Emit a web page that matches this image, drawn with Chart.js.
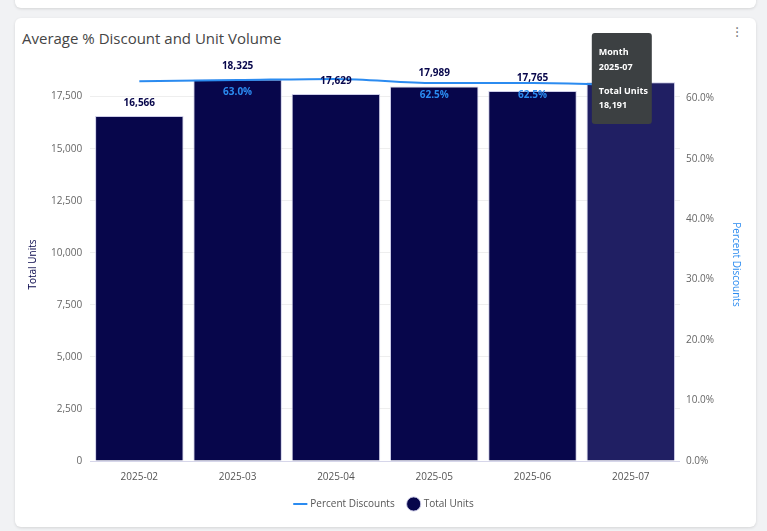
<!DOCTYPE html>
<html>
<head>
<meta charset="utf-8">
<script src="https://cdn.jsdelivr.net/npm/chart.js@4.4.1/dist/chart.umd.min.js"></script>
<style>
  html, body { margin: 0; padding: 0; background: #f1f2f4; width: 767px; height: 531px; overflow: hidden; font-family: 'Open Sans', sans-serif; }
  .topcard { position: absolute; left: 15px; top: -20px; width: 741px; height: 28px; background: #fff; border-radius: 6px; box-shadow: 0 1px 3px rgba(0,0,0,0.12); }
  .card { position: absolute; left: 15px; top: 18px; width: 741px; height: 509px; background: #fff; border-radius: 6px; box-shadow: 0 1px 3px rgba(0,0,0,0.12); }
  .title { position: absolute; left: 7px; top: 10px; font-size: 15px; color: #454545; }
  .menu { position: absolute; right: 17px; top: 8px; font-size: 14px; color: #777; line-height: 4px; }
  .wrap { position: absolute; left: 0; top: 10px; width: 741px; height: 496px; }
</style>
</head>
<body>
<div class="topcard"></div>
<div class="card">
  <div class="title">Average % Discount and Unit Volume</div>
  <div class="menu">·<br>·<br>·</div>
  <div class="wrap"><canvas id="chart"></canvas></div>
</div>
<script>
// data
const months = ['2025-02', '2025-03', '2025-04', '2025-05', '2025-06', '2025-07'];
const totalUnits = [16566, 18325, 17629, 17989, 17765, 18191];
const percentDiscounts = [62.8, 63.0, 63.2, 62.5, 62.5, 62.1];
const pctLabelShown = [false, true, false, true, true, false];
const unitTicks = [0, 2500, 5000, 7500, 10000, 12500, 15000, 17500];
const pctTicks = [0, 10, 20, 30, 40, 50, 60];
const hoveredIndex = 5;

const navy = '#07064b';
const navyHover = '#201f63';
const blue = '#2b8bf0';

Chart.defaults.font.family = "'Open Sans', sans-serif";
Chart.defaults.font.size = 10;
Chart.defaults.color = '#666';

// value labels on bars and on the line
const valueLabels = {
    id: 'valueLabels',
    afterDatasetsDraw(chart) {
        const ctx = chart.ctx;
        ctx.save();
        ctx.textAlign = 'center';
        ctx.textBaseline = 'middle';
        ctx.font = "bold 10px 'Open Sans', sans-serif";

        const barMeta = chart.getDatasetMeta(1);
        barMeta.data.forEach((bar, i) => {
            ctx.fillStyle = navy;
            ctx.fillText(totalUnits[i].toLocaleString('en-US'), bar.x, bar.y - 13);
        });

        const lineMeta = chart.getDatasetMeta(0);
        lineMeta.data.forEach((pt, i) => {
            if (!pctLabelShown[i]) return;
            ctx.fillStyle = blue;
            ctx.fillText(percentDiscounts[i].toFixed(1) + '%', pt.x, pt.y + 12);
        });
        ctx.restore();
    }
};

// fixed tooltip for the hovered bar
const staticTooltip = {
    id: 'staticTooltip',
    afterDraw(chart) {
        const bar = chart.getDatasetMeta(1).data[hoveredIndex];
        const ctx = chart.ctx;
        const x = bar.x - 39;
        const y = chart.chartArea.top - 35;
        const w = 60, h = 91;
        ctx.save();
        ctx.fillStyle = '#3c4042';
        ctx.beginPath();
        ctx.roundRect(x, y, w, h, 3);
        ctx.fill();
        ctx.fillStyle = '#fff';
        ctx.font = "bold 9px 'Open Sans', sans-serif";
        ctx.textAlign = 'left';
        ctx.textBaseline = 'middle';
        ctx.fillText('Month', x + 7, y + 19);
        ctx.fillText(months[hoveredIndex], x + 7, y + 34);
        ctx.fillText('Total Units', x + 7, y + 58);
        ctx.fillText(totalUnits[hoveredIndex].toLocaleString('en-US'), x + 7, y + 72);
        ctx.restore();
    }
};

new Chart(document.getElementById('chart'), {
    data: {
        labels: months,
        datasets: [
            {
                type: 'line',
                label: 'Percent Discounts',
                data: percentDiscounts,
                yAxisID: 'y1',
                borderColor: blue,
                backgroundColor: blue,
                borderWidth: 2,
                pointRadius: 0,
                cubicInterpolationMode: 'monotone',
                pointStyle: 'line',
                order: 0
            },
            {
                type: 'bar',
                label: 'Total Units',
                data: totalUnits,
                yAxisID: 'y',
                backgroundColor: months.map((m, i) => i === hoveredIndex ? navyHover : navy),
                borderColor: 'rgba(200,200,228,0.9)',
                borderWidth: 1,
                barPercentage: 0.9,
                categoryPercentage: 1.0,
                pointStyle: 'circle',
                order: 1
            }
        ]
    },
    options: {
        responsive: true,
        maintainAspectRatio: false,
        animation: false,
        layout: { padding: { left: 8, right: 10, top: 40, bottom: 5 } },
        plugins: {
            legend: {
                position: 'bottom',
                labels: {
                    usePointStyle: true,
                    boxWidth: 10,
                    boxHeight: 10,
                    color: '#555',
                    font: { size: 10 },
                    padding: 14
                }
            },
            tooltip: { enabled: false }
        },
        scales: {
            x: {
                grid: { display: false },
                border: { color: '#d6d6ea' },
                ticks: { color: '#555', padding: 2 }
            },
            y: {
                position: 'left',
                min: 0,
                max: 18875,
                afterBuildTicks: s => { s.ticks = unitTicks.map(v => ({ value: v })); },
                ticks: { color: '#666', padding: 8, callback: v => v.toLocaleString('en-US') },
                grid: { color: '#eeeeee', drawTicks: false },
                border: { display: false },
                title: { display: true, text: 'Total Units', color: navy, font: { size: 10 } }
            },
            y1: {
                position: 'right',
                min: 0,
                max: 65,
                afterBuildTicks: s => { s.ticks = pctTicks.map(v => ({ value: v })); },
                ticks: { color: '#666', padding: 6, callback: v => v.toFixed(1) + '%' },
                grid: { display: false, drawTicks: false },
                border: { display: false },
                title: { display: true, text: 'Percent Discounts', color: blue, font: { size: 10 },
                    padding: { top: 4, bottom: 10 } }
            }
        }
    },
    plugins: [valueLabels, staticTooltip]
});
</script>
</body>
</html>
